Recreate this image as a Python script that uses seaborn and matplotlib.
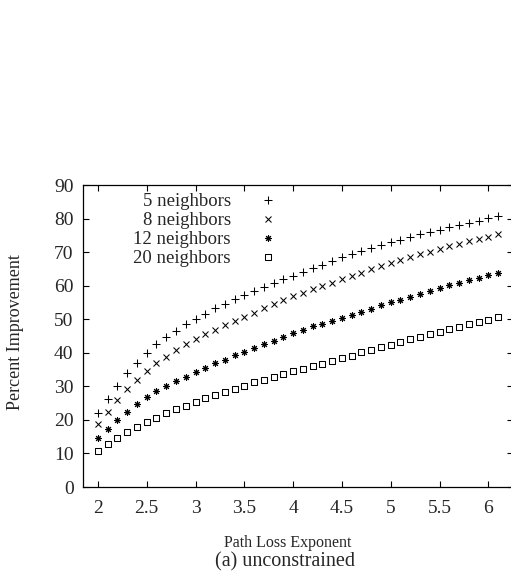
import matplotlib
matplotlib.use("Agg")
import matplotlib.pyplot as plt
import seaborn as sns
import pandas as pd
from matplotlib.path import Path

# ---------------- data ----------------
exponent = [2.0, 2.1, 2.2, 2.3, 2.4, 2.5, 2.6, 2.7, 2.8, 2.9,
            3.0, 3.1, 3.2, 3.3, 3.4, 3.5, 3.6, 3.7, 3.8, 3.9,
            4.0, 4.1, 4.2, 4.3, 4.4, 4.5, 4.6, 4.7, 4.8, 4.9,
            5.0, 5.1, 5.2, 5.3, 5.4, 5.5, 5.6, 5.7, 5.8, 5.9,
            6.0, 6.1]

n5 = [22.2, 26.1, 30.1, 33.9, 37.1, 39.8, 42.5, 44.6, 46.6, 48.5,
      50.2, 51.7, 53.2, 54.6, 55.9, 57.2, 58.4, 59.6, 60.8, 61.9,
      63.0, 64.1, 65.2, 66.3, 67.4, 68.4, 69.4, 70.3, 71.2, 72.1,
      73.0, 73.7, 74.5, 75.3, 76.0, 76.7, 77.4, 78.2, 78.8, 79.4,
      80.1, 80.8]

n8 = [18.7, 22.4, 25.8, 29.1, 31.9, 34.5, 36.9, 38.8, 40.8, 42.6,
      44.0, 45.5, 46.8, 48.2, 49.4, 50.7, 52.0, 53.2, 54.5, 55.6,
      56.8, 57.8, 58.9, 59.9, 60.9, 62.0, 62.9, 63.9, 64.9, 65.8,
      66.7, 67.7, 68.5, 69.4, 70.1, 70.9, 71.7, 72.5, 73.3, 73.9,
      74.6, 75.3]

n12 = [14.5, 17.3, 20.0, 22.4, 24.6, 26.7, 28.5, 30.1, 31.5, 32.9,
       34.3, 35.6, 36.9, 37.9, 39.2, 40.3, 41.5, 42.5, 43.6, 44.8,
       45.8, 46.9, 47.9, 48.6, 49.5, 50.4, 51.4, 52.3, 53.1, 54.2,
       55.0, 55.8, 56.7, 57.5, 58.4, 59.2, 60.1, 60.8, 61.7, 62.4,
       63.1, 63.9]

n20 = [10.6, 12.7, 14.6, 16.3, 18.0, 19.4, 20.7, 22.0, 23.2, 24.2,
       25.4, 26.4, 27.4, 28.4, 29.2, 30.2, 31.2, 31.9, 32.9, 33.8,
       34.5, 35.3, 36.1, 36.8, 37.6, 38.4, 39.1, 40.1, 40.8, 41.6,
       42.4, 43.2, 44.0, 44.7, 45.5, 46.2, 47.0, 47.8, 48.5, 49.2,
       49.9, 50.6]

series_names = ["5 neighbors", "8 neighbors", "12 neighbors", "20 neighbors"]
series_values = [n5, n8, n12, n20]

x_ticks = [2, 2.5, 3, 3.5, 4, 4.5, 5, 5.5, 6]
x_tick_labels = ["2", "2.5", "3", "3.5", "4", "4.5", "5", "5.5", "6"]
y_ticks = [0, 10, 20, 30, 40, 50, 60, 70, 80, 90]

# ---------------- styling ----------------
sns.set_theme(style="ticks")
plt.rcParams["font.family"] = ["Liberation Serif", "DejaVu Serif"]
plt.rcParams["axes.edgecolor"] = "black"
plt.rcParams["axes.linewidth"] = 0.9

# square with a centre dot (gnuplot box point)
box_dot = Path(
    [(-0.5, -0.5), (0.5, -0.5), (0.5, 0.5), (-0.5, 0.5), (-0.5, -0.5),
     (-0.07, -0.07), (0.07, -0.07), (0.07, 0.07), (-0.07, 0.07), (-0.07, -0.07)],
    [Path.MOVETO, Path.LINETO, Path.LINETO, Path.LINETO, Path.CLOSEPOLY,
     Path.MOVETO, Path.LINETO, Path.LINETO, Path.LINETO, Path.CLOSEPOLY])

marker_styles = ["+", "x", (8, 2, 0), box_dot]
marker_sizes = [5.5, 4.6, 4.8, 4.8]

frames = []
for name, vals in zip(series_names, series_values):
    frames.append(pd.DataFrame({"exponent": exponent, "improvement": vals, "series": name}))
df = pd.concat(frames, ignore_index=True)

W, H = 511, 572
fig = plt.figure(figsize=(W / 100, H / 100), dpi=100)
left_px, right_px, top_px, bottom_px = 83.3, 512.7, 185.0, 487.0
ax = fig.add_axes([left_px / W, 1 - bottom_px / H,
                   (right_px - left_px) / W, (bottom_px - top_px) / H])

for name, mk, ms in zip(series_names, marker_styles, marker_sizes):
    sub = df[df["series"] == name]
    sns.lineplot(data=sub, x="exponent", y="improvement", ax=ax,
                 marker=mk, markersize=ms, linestyle="", color="black",
                 markerfacecolor="none", markeredgecolor="black",
                 markeredgewidth=0.75, errorbar=None, label=name)

ax.set_xlim(1.85, 6.25)
ax.set_ylim(0, 90)
ax.set_xticks(x_ticks)
ax.set_xticklabels(x_tick_labels)
ax.set_yticks(y_ticks)
ax.tick_params(axis="both", which="major", direction="in", length=4.3,
               width=0.8, color="black", labelsize=14, top=True, right=True)
ax.tick_params(axis="y", pad=7.0)
ax.tick_params(axis="x", pad=9.5)
for s in ax.spines.values():
    s.set_visible(True)
    s.set_color("black")

ax.set_xlabel("Path Loss Exponent", fontsize=11.5)
ax.set_ylabel("Percent Improvement", fontsize=13)
ax.xaxis.set_label_coords((288 - left_px) / (right_px - left_px),
                          (bottom_px - 543) / (bottom_px - top_px))
ax.yaxis.set_label_coords((15 - left_px) / (right_px - left_px),
                          (bottom_px - 332) / (bottom_px - top_px))
ax.xaxis.label.set_va("center")
ax.yaxis.label.set_va("center")

leg = ax.legend(loc="upper right", markerfirst=False, frameon=False,
                fontsize=13.5, handlelength=2.0, handletextpad=1.0,
                labelspacing=0.1, borderpad=0, borderaxespad=0,
                bbox_to_anchor=((287 - left_px) / (right_px - left_px),
                                (bottom_px - 193.2) / (bottom_px - top_px)))

fig.text(285 / W, 1 - 562 / H, "(a) unconstrained", ha="center", va="center",
         fontsize=14.5)

fig.savefig("out.png", dpi=100)
